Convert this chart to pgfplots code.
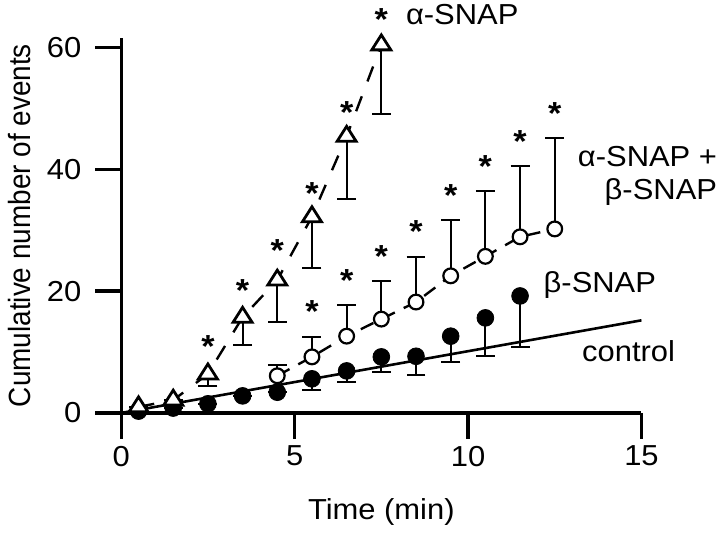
\documentclass[border=0pt]{standalone}
\usepackage{pgfplots}
\pgfplotsset{compat=1.18}
\usepackage{graphicx}
\usepackage{fontspec}
\setmainfont[FakeStretch=1.07]{Liberation Sans}
\newfontfamily\ylfont{Liberation Sans}

\pgfplotstableread{
x y em
0.5 1.0 0
1.5 2.1 0
2.5 6.4 2.0
3.5 15.7 4.6
4.5 21.8 6.9
5.5 32.2 8.4
6.5 45.4 10.3
7.5 60.4 11.4
}\alphatab

\pgfplotstableread{
x y ep
4.5 6.1 1.8
5.5 9.2 3.2
6.5 12.6 5.1
7.5 15.4 6.2
8.5 18.2 7.4
9.5 22.5 9.1
10.5 25.7 10.7
11.5 28.9 11.6
12.5 30.2 15.0
}\abtab

\pgfplotstableread{
x y em
0.5 0.3 0
1.5 0.8 0
2.5 1.5 0
3.5 2.8 0
4.5 3.4 0
5.5 5.6 1.8
6.5 6.9 1.8
7.5 9.2 2.5
8.5 9.3 3.1
9.5 12.6 4.3
10.5 15.6 6.3
11.5 19.2 8.4
}\betatab

\pgfplotstableread{
x y
0 0
15 15.2
}\ctrltab

\pgfplotstableread{
x y
2.5 10.9
3.5 20.1
4.5 26.7
5.5 36.0
6.5 49.3
7.5 64.5
5.5 16.7
6.5 21.8
7.5 25.7
8.5 29.8
9.5 35.7
10.5 40.4
11.5 44.5
12.5 49.1
}\startab

\begin{document}
\begin{tikzpicture}[font=\fontsize{14.5}{17}\selectfont]
\begin{axis}[
  scale only axis, width=261pt, height=188pt,
  xmin=0, xmax=15, ymin=0, ymax=61.5,
  axis x line=bottom, axis y line=left,
  axis line style={-, line width=1.6pt},
  tick align=outside, major tick length=13pt,
  tick style={line width=1.6pt, black},
  xtick={0,5,10,15}, ytick={0,20,40,60},
  /pgf/number format/assume math mode=true,
  yticklabel style={xshift=-3.5pt},
  xlabel={Time (min)},
  xlabel style={yshift=-9.5pt},
  ylabel={\scalebox{1}[1.1]{\ylfont\fontsize{14}{16}\selectfont Cumulative number of events}},
  ylabel style={yshift=1pt},
  clip=false,
]
% control line
\addplot[black, line width=1.3pt, no marks] table[x=x,y=y] {\ctrltab};
% dashed lines
\addplot[black, line width=1.2pt, no marks, dash pattern=on 8pt off 8pt] table[x=x,y=y] {\alphatab};
\addplot[black, line width=1.2pt, no marks, dash pattern=on 7pt off 5pt] table[x=x,y=y] {\abtab};
% error bars
\addplot[draw=none, forget plot, error bars/.cd, y dir=minus, y explicit,
  error bar style={draw=black, solid, line width=1pt},
  error mark options={rotate=90, mark size=4.75pt, line width=1pt, draw=black}]
  table[x=x, y=y, y error=em] {\alphatab};
\addplot[draw=none, forget plot, error bars/.cd, y dir=plus, y explicit,
  error bar style={draw=black, solid, line width=1pt},
  error mark options={rotate=90, mark size=4.75pt, line width=1pt, draw=black}]
  table[x=x, y=y, y error=ep] {\abtab};
\addplot[draw=none, forget plot, error bars/.cd, y dir=minus, y explicit,
  error bar style={draw=black, solid, line width=1pt},
  error mark options={rotate=90, mark size=4.75pt, line width=1pt, draw=black}]
  table[x=x, y=y, y error=em] {\betatab};
% markers
\addplot[only marks, mark=*, mark size=4.2pt, draw=black, fill=black] table[x=x,y=y] {\betatab};
\addplot[only marks, mark=*, mark size=3.7pt, mark options={draw=black, fill=white, line width=1.1pt, solid}] table[x=x,y=y] {\abtab};
\addplot[only marks, mark=triangle*, mark size=5pt, mark options={draw=black, fill=white, line width=1.4pt, solid, xscale=1.1}] table[x=x,y=y] {\alphatab};
% asterisks
\addplot[only marks, mark=text, text mark={\fontsize{16}{16}\bfseries *}] table[x=x,y=y] {\startab};
% labels
\node[anchor=base west, inner sep=0] at (axis cs:8.2,63.8) {α-SNAP};
\node[anchor=base east, inner sep=0] at (axis cs:17.19,40.5) {α-SNAP +};
\node[anchor=base east, inner sep=0] at (axis cs:17.19,35.1) {β-SNAP};
\node[anchor=base west, inner sep=0] at (axis cs:12.17,19.8) {β-SNAP};
\node[anchor=base west, inner sep=0] at (axis cs:13.28,8.5) {control};
\end{axis}
\path (current bounding box.north east) ++(1.5pt,2pt);
\path (current bounding box.south west) ++(-1pt,-2.5pt);
\end{tikzpicture}
\end{document}
